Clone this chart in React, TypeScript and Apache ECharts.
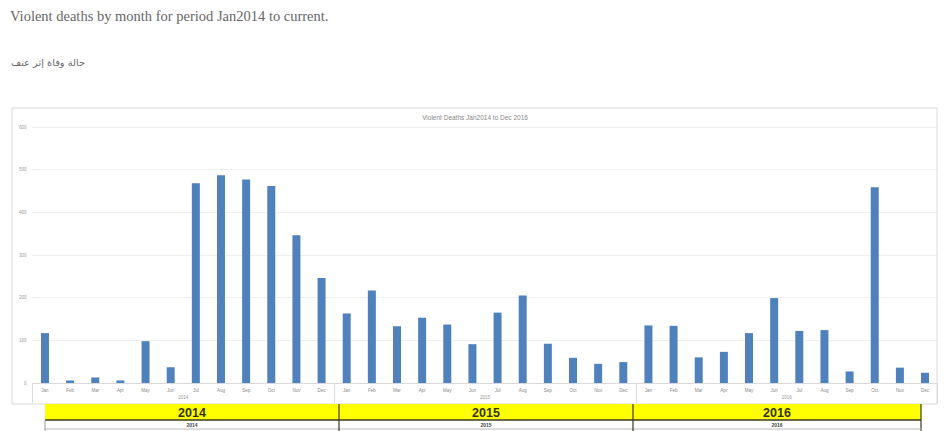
import React, { useEffect, useRef } from "react";
import * as echarts from "echarts";

const months = ["Jan", "Feb", "Mar", "Apr", "May", "Jun", "Jul", "Aug", "Sep", "Oct", "Nov", "Dec"];
const years = ["2014", "2015", "2016"];
const deaths2014 = [117, 6, 13, 6, 98, 37, 468, 487, 477, 462, 346, 246];
const deaths2015 = [163, 217, 133, 153, 137, 91, 165, 205, 92, 59, 45, 49];
const deaths2016 = [135, 134, 60, 73, 117, 199, 122, 124, 27, 459, 36, 24];
const yTicks = [0, 100, 200, 300, 400, 500, 600];

const pageTitle = "Violent deaths by month for period Jan2014 to current.";
const arabicCaption = "حالة وفاة إثر عنف";
const chartTitle = "Violent Deaths Jan2014 to Dec 2016";

export default function App() {
  const ref = useRef<HTMLDivElement>(null);

  useEffect(() => {
    if (!ref.current) return;
    const chart = echarts.init(ref.current, undefined, { renderer: "svg" });

    const categories: string[] = [];
    years.forEach(() => months.forEach((m) => categories.push(m)));
    const values = [...deaths2014, ...deaths2015, ...deaths2016];

    const bandLeft = 45;
    const bandRight = 921;
    const bandTop = 404;
    const bandBottom = 420;
    const dividers = [339, 633];
    const bandCenters = [192, 486, 777];

    const graphics: any[] = [
      {
        type: "rect",
        shape: { x: 12, y: 108, width: 925, height: 296 },
        style: { fill: "none", stroke: "#d9d9d9", lineWidth: 1 },
        z: 1,
      },
      {
        type: "rect",
        shape: { x: bandLeft, y: bandTop, width: bandRight - bandLeft, height: bandBottom - bandTop },
        style: { fill: "#ffff00" },
        z: 10,
      },
      {
        type: "line",
        shape: { x1: bandLeft, y1: bandBottom, x2: bandRight, y2: bandBottom },
        style: { stroke: "#3a3a20", lineWidth: 1.5 },
        z: 11,
      },
      {
        type: "line",
        shape: { x1: bandRight, y1: bandTop, x2: bandRight, y2: 431 },
        style: { stroke: "#3a3a20", lineWidth: 1.2 },
        z: 11,
      },
      {
        type: "line",
        shape: { x1: bandLeft, y1: 429, x2: bandRight, y2: 429 },
        style: { stroke: "#bbbbbb", lineWidth: 1 },
        z: 11,
      },
      {
        type: "line",
        shape: { x1: bandLeft, y1: bandBottom, x2: bandLeft, y2: 431 },
        style: { stroke: "#999999", lineWidth: 1 },
        z: 11,
      },
    ];
    dividers.forEach((x) => {
      graphics.push({
        type: "line",
        shape: { x1: x, y1: bandTop, x2: x, y2: 431 },
        style: { stroke: "#3a3a20", lineWidth: 1.2 },
        z: 11,
      });
    });
    years.forEach((y, i) => {
      graphics.push({
        type: "text",
        x: bandCenters[i],
        y: 412.5,
        style: {
          text: y,
          fill: "#333300",
          font: "bold 12.5px 'Liberation Sans', Arial, sans-serif",
          textAlign: "center",
          textVerticalAlign: "middle",
        },
        z: 12,
      });
      graphics.push({
        type: "text",
        x: bandCenters[i],
        y: 424.5,
        style: {
          text: y,
          fill: "#444444",
          font: "bold 5px 'Liberation Sans', Arial, sans-serif",
          textAlign: "center",
          textVerticalAlign: "middle",
        },
        z: 12,
      });
    });

    chart.setOption({
      animation: false,
      backgroundColor: "#ffffff",
      title: [
        {
          text: pageTitle,
          left: 10,
          top: 8,
          padding: 0,
          textStyle: {
            fontFamily: "'Liberation Serif', 'DejaVu Serif', serif",
            fontSize: 14.5,
            fontWeight: "normal",
            color: "#666666",
          },
        },
        {
          text: arabicCaption,
          left: 11,
          top: 57,
          padding: 0,
          textStyle: {
            fontFamily: "'DejaVu Sans', sans-serif",
            fontSize: 9.8,
            fontWeight: "normal",
            color: "#666666",
          },
        },
        {
          text: chartTitle,
          left: 475,
          top: 113.5,
          padding: 0,
          textAlign: "center",
          textStyle: {
            fontFamily: "'Liberation Sans', Arial, sans-serif",
            fontSize: 6.5,
            fontWeight: "normal",
            color: "#888888",
          },
        },
      ],
      graphic: graphics,
      grid: { left: 32.4, right: 6.4, top: 127, bottom: 48, containLabel: false },
      xAxis: [
        {
          type: "category",
          data: categories,
          position: "bottom",
          axisLine: { show: true, lineStyle: { color: "#d9d9d9", width: 1 } },
          axisTick: { show: false },
          axisLabel: {
            interval: 0,
            fontSize: 4.5,
            color: "#888888",
            margin: 5,
            fontFamily: "'Liberation Sans', Arial, sans-serif",
          },
        },
        {
          type: "category",
          data: years,
          position: "bottom",
          axisLine: { show: false },
          axisTick: { show: true, length: 20, lineStyle: { color: "#d9d9d9", width: 1 } },
          axisLabel: {
            fontSize: 4.5,
            color: "#999999",
            margin: 12,
            fontFamily: "'Liberation Sans', Arial, sans-serif",
          },
        },
      ],
      yAxis: {
        type: "value",
        min: yTicks[0],
        max: yTicks[yTicks.length - 1],
        interval: 100,
        axisLine: { show: false },
        axisTick: { show: false },
        axisLabel: {
          fontSize: 4.5,
          color: "#999999",
          margin: 6,
          fontFamily: "'Liberation Sans', Arial, sans-serif",
        },
        splitLine: { show: true, lineStyle: { color: "#eeeeee", width: 1 } },
      },
      series: [
        {
          type: "bar",
          xAxisIndex: 0,
          data: values,
          barWidth: 8,
          itemStyle: { color: "#4f81bd" },
        },
      ],
    });

    return () => chart.dispose();
  }, []);

  return (
    <div
      ref={ref}
      style={{ position: "absolute", left: 0, top: 0, width: 944, height: 431 }}
    />
  );
}
